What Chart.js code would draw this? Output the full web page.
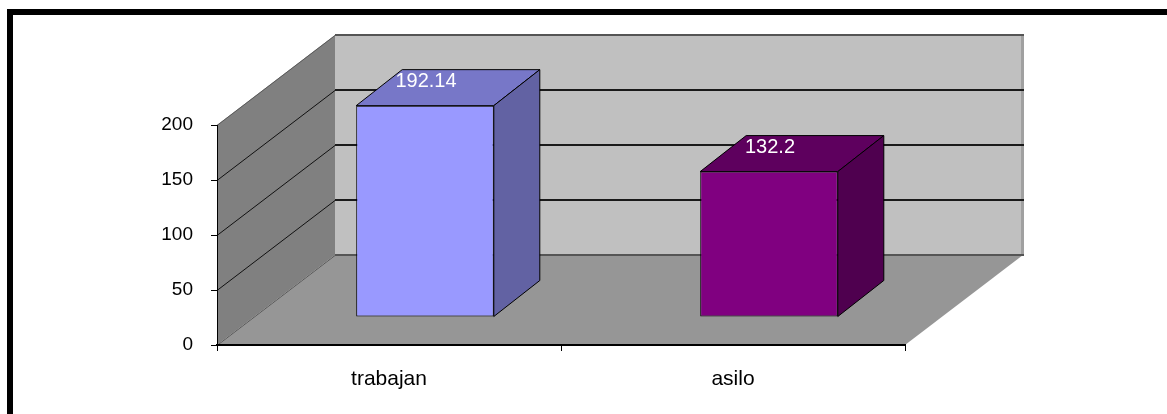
<!DOCTYPE html>
<html>
<head>
<meta charset="utf-8">
<script src="https://cdn.jsdelivr.net/npm/chart.js@4.4.1/dist/chart.umd.min.js"></script>
<style>
  html, body { margin: 0; padding: 0; background: #fff; overflow: hidden; }
  canvas { display: block; }
</style>
</head>
<body>
<canvas id="c" width="1167" height="414"></canvas>
<script>
// Data
const categories = ['trabajan', 'asilo'];
const values = [192.14, 132.2];
const yMin = 0;
const yMax = 200;
const yStep = 50;

// Face colours for each bar (front, top, side)
const frontColors = ['#9999FF', '#800080'];
const topColors = ['#7777C8', '#5E005E'];
const sideColors = ['#6262A3', '#4F004F'];

// Oblique projection offsets
const WALL_DEPTH = { dx: 118, dy: -90 };
const BAR_SHIFT = { dx: 36, dy: -28 };
const BAR_DEPTH = { dx: 46, dy: -36 };

const FONT = '"Liberation Sans", Arial, sans-serif';

function poly(ctx, pts, fill, stroke) {
  ctx.beginPath();
  ctx.moveTo(pts[0][0], pts[0][1]);
  for (let i = 1; i < pts.length; i++) ctx.lineTo(pts[i][0], pts[i][1]);
  ctx.closePath();
  if (fill) { ctx.fillStyle = fill; ctx.fill(); }
  if (stroke) { ctx.strokeStyle = stroke; ctx.lineWidth = 1; ctx.stroke(); }
}

function seg(ctx, x1, y1, x2, y2, color, w) {
  ctx.beginPath();
  ctx.moveTo(x1, y1);
  ctx.lineTo(x2, y2);
  ctx.strokeStyle = color;
  ctx.lineWidth = w;
  ctx.stroke();
}

const scene3d = {
  id: 'scene3d',
  beforeDraw(chart) {
    const ctx = chart.ctx;
    const a = chart.chartArea;
    const ys = chart.scales.y;
    const L = a.left, R = a.right;
    const p0 = ys.getPixelForValue(yMin);
    const pT = ys.getPixelForValue(yMax);
    const dx = WALL_DEPTH.dx, dy = WALL_DEPTH.dy;

    ctx.save();
    ctx.fillStyle = '#FFFFFF';
    ctx.fillRect(0, 0, chart.width, chart.height);

    // outer frame
    ctx.fillStyle = '#000000';
    ctx.fillRect(7, 9, chart.width - 7, 6);
    ctx.fillRect(7, 9, 6, chart.height - 9);

    // back wall
    ctx.fillStyle = '#C0C0C0';
    ctx.fillRect(L + dx, pT + dy, R - L, p0 - pT);
    ctx.fillStyle = '#A0A0A0';
    ctx.fillRect(R + dx - 2, pT + dy, 3, p0 - pT);

    // side wall
    poly(ctx, [[L, p0], [L, pT], [L + dx, pT + dy], [L + dx, p0 + dy]], '#808080');

    // floor
    poly(ctx, [[L, p0], [L + dx, p0 + dy], [R + dx, p0 + dy], [R, p0]], '#969696');

    // gridlines on both walls
    for (let v = yMin; v <= yMax; v += yStep) {
      const py = Math.round(ys.getPixelForValue(v));
      const edge = (v === yMin || v === yMax);
      seg(ctx, L + dx, py + dy, R + dx + 1, py + dy, edge ? '#555555' : '#1A1A1A', 2);
      seg(ctx, L, py + 0.5, L + dx, py + dy + 0.5, edge ? '#5A5A5A' : '#111111', 1);
    }
    ctx.restore();
  },
  beforeDatasetsDraw(chart) {
    chart.ctx.save();
    chart.ctx.translate(BAR_SHIFT.dx, BAR_SHIFT.dy);
  },
  afterDatasetsDraw(chart) {
    const ctx = chart.ctx;
    ctx.restore();
    ctx.save();
    const meta = chart.getDatasetMeta(0);
    meta.data.forEach((bar, i) => {
      const l = bar.x - bar.width / 2 + BAR_SHIFT.dx;
      const r = bar.x + bar.width / 2 + BAR_SHIFT.dx;
      const t = bar.y + BAR_SHIFT.dy;
      const b = bar.base + BAR_SHIFT.dy;
      const ddx = BAR_DEPTH.dx, ddy = BAR_DEPTH.dy;
      poly(ctx, [[l, t], [l + ddx, t + ddy], [r + ddx, t + ddy], [r, t]], topColors[i], '#000000');
      poly(ctx, [[r, t], [r + ddx, t + ddy], [r + ddx, b + ddy], [r, b]], sideColors[i], '#000000');

      ctx.font = '20px ' + FONT;
      ctx.fillStyle = '#FFFFFF';
      ctx.textAlign = 'center';
      ctx.textBaseline = 'middle';
      ctx.fillText(String(values[i]), (l + r) / 2 + 1, t - 24);
    });
    ctx.restore();
  }
};

new Chart(document.getElementById('c'), {
  type: 'bar',
  data: {
    labels: categories,
    datasets: [{
      data: values,
      backgroundColor: frontColors,
      borderColor: '#000000',
      borderWidth: 1,
      borderSkipped: false,
      categoryPercentage: 1.0,
      barPercentage: 0.4,
      clip: false
    }]
  },
  options: {
    responsive: false,
    animation: false,
    devicePixelRatio: 1,
    layout: { padding: { left: 0, top: 125, right: 262, bottom: 0 } },
    plugins: {
      legend: { display: false },
      tooltip: { enabled: false }
    },
    scales: {
      x: {
        offset: true,
        grid: { display: true, offset: true, drawOnChartArea: false, drawTicks: true, tickLength: 6, color: '#000000' },
        border: { display: true, color: '#000000', width: 2 },
        ticks: { color: '#000000', font: { family: FONT, size: 21 }, padding: 16, maxRotation: 0 },
        afterFit(scale) { scale.height = 69; }
      },
      y: {
        min: yMin,
        max: yMax,
        ticks: { stepSize: yStep, color: '#000000', font: { family: FONT, size: 19 }, padding: 18 },
        grid: { display: true, drawOnChartArea: false, drawTicks: true, tickLength: 6, color: '#000000' },
        border: { display: true, color: '#000000', width: 1 },
        afterFit(scale) { scale.width = 217; }
      }
    }
  },
  plugins: [scene3d]
});
</script>
</body>
</html>
